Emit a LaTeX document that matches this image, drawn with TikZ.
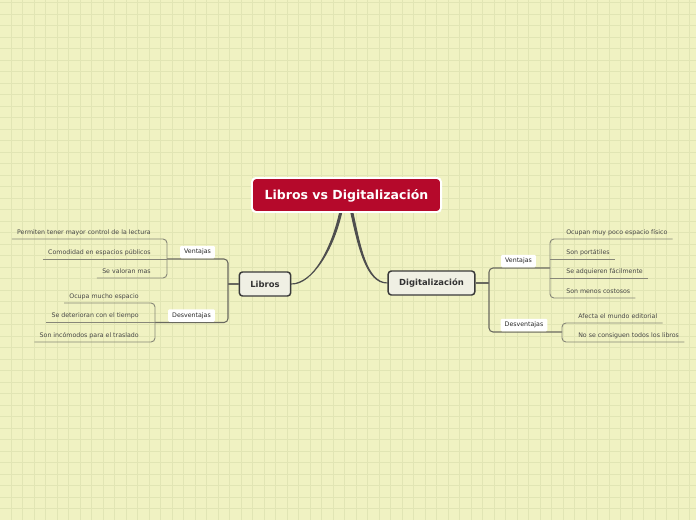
\documentclass[tikz,border=0pt]{standalone}
\usepackage{fontspec}
\setmainfont{DejaVu Sans}

\definecolor{paper}{RGB}{240,242,194}
\definecolor{gridcol}{RGB}{225,229,180}
\definecolor{rootred}{RGB}{181,9,43}
\definecolor{topicfill}{RGB}{240,240,228}
\definecolor{topicline}{RGB}{58,58,58}
\definecolor{branchcol}{RGB}{105,105,95}
\definecolor{leafcol}{RGB}{135,135,120}
\definecolor{leaftext}{RGB}{70,70,70}

\tikzset{
  rootbox/.style={draw=white, line width=1.4pt, fill=rootred, rounded corners=0.1cm,
    text=white, font=\fontsize{8.9pt}{10pt}\selectfont\bfseries,
    minimum width=4.725cm, minimum height=0.85cm, inner sep=0pt,
    text height=0.2cm, text depth=0pt},
  topic/.style={draw=topicline, line width=1.05pt, fill=topicfill, rounded corners=0.08cm,
    text=black!80, font=\fontsize{6pt}{7pt}\selectfont\bfseries,
    minimum height=0.6cm, inner xsep=0.275cm, inner ysep=0pt},
  tag/.style={fill=white, rounded corners=0.03cm, text=black!85,
    font=\fontsize{4.45pt}{5pt}\selectfont,
    minimum height=0.3125cm, inner xsep=0.1cm, inner ysep=0pt},
  leaf/.style={text=leaftext, font=\fontsize{4.45pt}{5pt}\selectfont,
    text height=0.11cm, text depth=0.05cm, inner xsep=0.125cm, inner ysep=0.0625cm},
  branch/.style={draw=branchcol, line width=0.75pt, rounded corners=0.1cm},
  twig/.style={draw=leafcol, line width=0.65pt, rounded corners=0.1cm},
  stem/.style={fill=topicline!90, draw=topicline!90, line width=0.75pt, line join=round}
}

\begin{document}
\begin{tikzpicture}[x=0.025cm, y=-0.025cm]
  % paper and grid
  \fill[paper] (0,0) rectangle (696,520);
  \useasboundingbox (0,0) rectangle (696,520);
  \foreach \k in {0,...,59}
    \draw[gridcol, line width=0.5pt] ({11.2+11.5*\k},0) -- ++(0,520);
  \foreach \k in {0,...,44}
    \draw[gridcol, line width=0.5pt] (0,{2.8+11.5*\k}) -- ++(696,0);

  % stems from the main topic
  \coordinate (sl) at (341,211);
  \coordinate (sr) at (351.5,211);
  \node[topic] (libros) at (265,284) {Libros};
  \node[topic] (digital) at (431.5,283) {Digitalización};
  \fill[stem] ([xshift=-0.025cm]sl) .. controls (332,248) and (313,284.5) .. (libros.east)
    .. controls (313,283.5) and (334,248) .. ([xshift=0.025cm]sl) -- cycle;
  \fill[stem] ([xshift=-0.025cm]sr) .. controls (358,245) and (366,283.5) .. (digital.west)
    .. controls (366,282.5) and (360,245) .. ([xshift=0.025cm]sr) -- cycle;
  \node[rootbox] (main) at (346.5,195) {Libros vs Digitalización};

  % Libros side
  \coordinate (lv) at (167,259);
  \coordinate (ld) at (155,322.5);
  \draw[branch] (libros.west) -- (228,284);
  \draw[branch] (lv) -- (228,259) -- (228,322.5) -- (ld);
  \node[tag, anchor=south] (lven) at (197.5,258.6) {Ventajas};
  \node[tag, anchor=south] (ldes) at (191.5,322.1) {Desventajas};

  \node[leaf, anchor=south east] (l1) at (156,239) {Permiten tener mayor control de la lectura};
  \node[leaf, anchor=south east] (l2) at (156,259) {Comodidad en espacios públicos};
  \node[leaf, anchor=south east] (l3) at (156,278) {Se valoran mas};
  \draw[twig] (l1.south west) -- (167,239) -- (167,278) -- (l3.south west);
  \draw[twig] (l2.south west) -- (lv);

  \node[leaf, anchor=south east] (l4) at (144,303) {Ocupa mucho espacio};
  \node[leaf, anchor=south east] (l5) at (144,322.5) {Se deterioran con el tiempo};
  \node[leaf, anchor=south east] (l6) at (144,342) {Son incómodos para el traslado};
  \draw[twig] (l4.south west) -- (155,303) -- (155,342) -- (l6.south west);
  \draw[twig] (l5.south west) -- (ld);

  % Digitalizacion side
  \coordinate (rv) at (550,268);
  \coordinate (rd) at (562,332);
  \draw[branch] (digital.east) -- (489,283);
  \draw[branch] (rv) -- (489,268) -- (489,332) -- (rd);
  \node[tag, anchor=south] (rven) at (518.5,267.6) {Ventajas};
  \node[tag, anchor=south] (rdes) at (524,331.6) {Desventajas};

  \node[leaf, anchor=south west] (r1) at (561,239) {Ocupan muy poco espacio físico};
  \node[leaf, anchor=south west] (r2) at (561,259) {Son portátiles};
  \node[leaf, anchor=south west] (r3) at (561,278) {Se adquieren fácilmente};
  \node[leaf, anchor=south west] (r4) at (561,298) {Son menos costosos};
  \draw[twig] (r1.south east) -- (550,239) -- (550,298) -- (r4.south east);
  \draw[twig] (550,259) -- (r2.south east);
  \draw[twig] (550,278) -- (r3.south east);

  \node[leaf, anchor=south west] (r5) at (573,323) {Afecta el mundo editorial};
  \node[leaf, anchor=south west] (r6) at (573,342) {No se consiguen todos los libros};
  \draw[twig] (r5.south east) -- (562,323) -- (562,342) -- (r6.south east);
\end{tikzpicture}
\end{document}
